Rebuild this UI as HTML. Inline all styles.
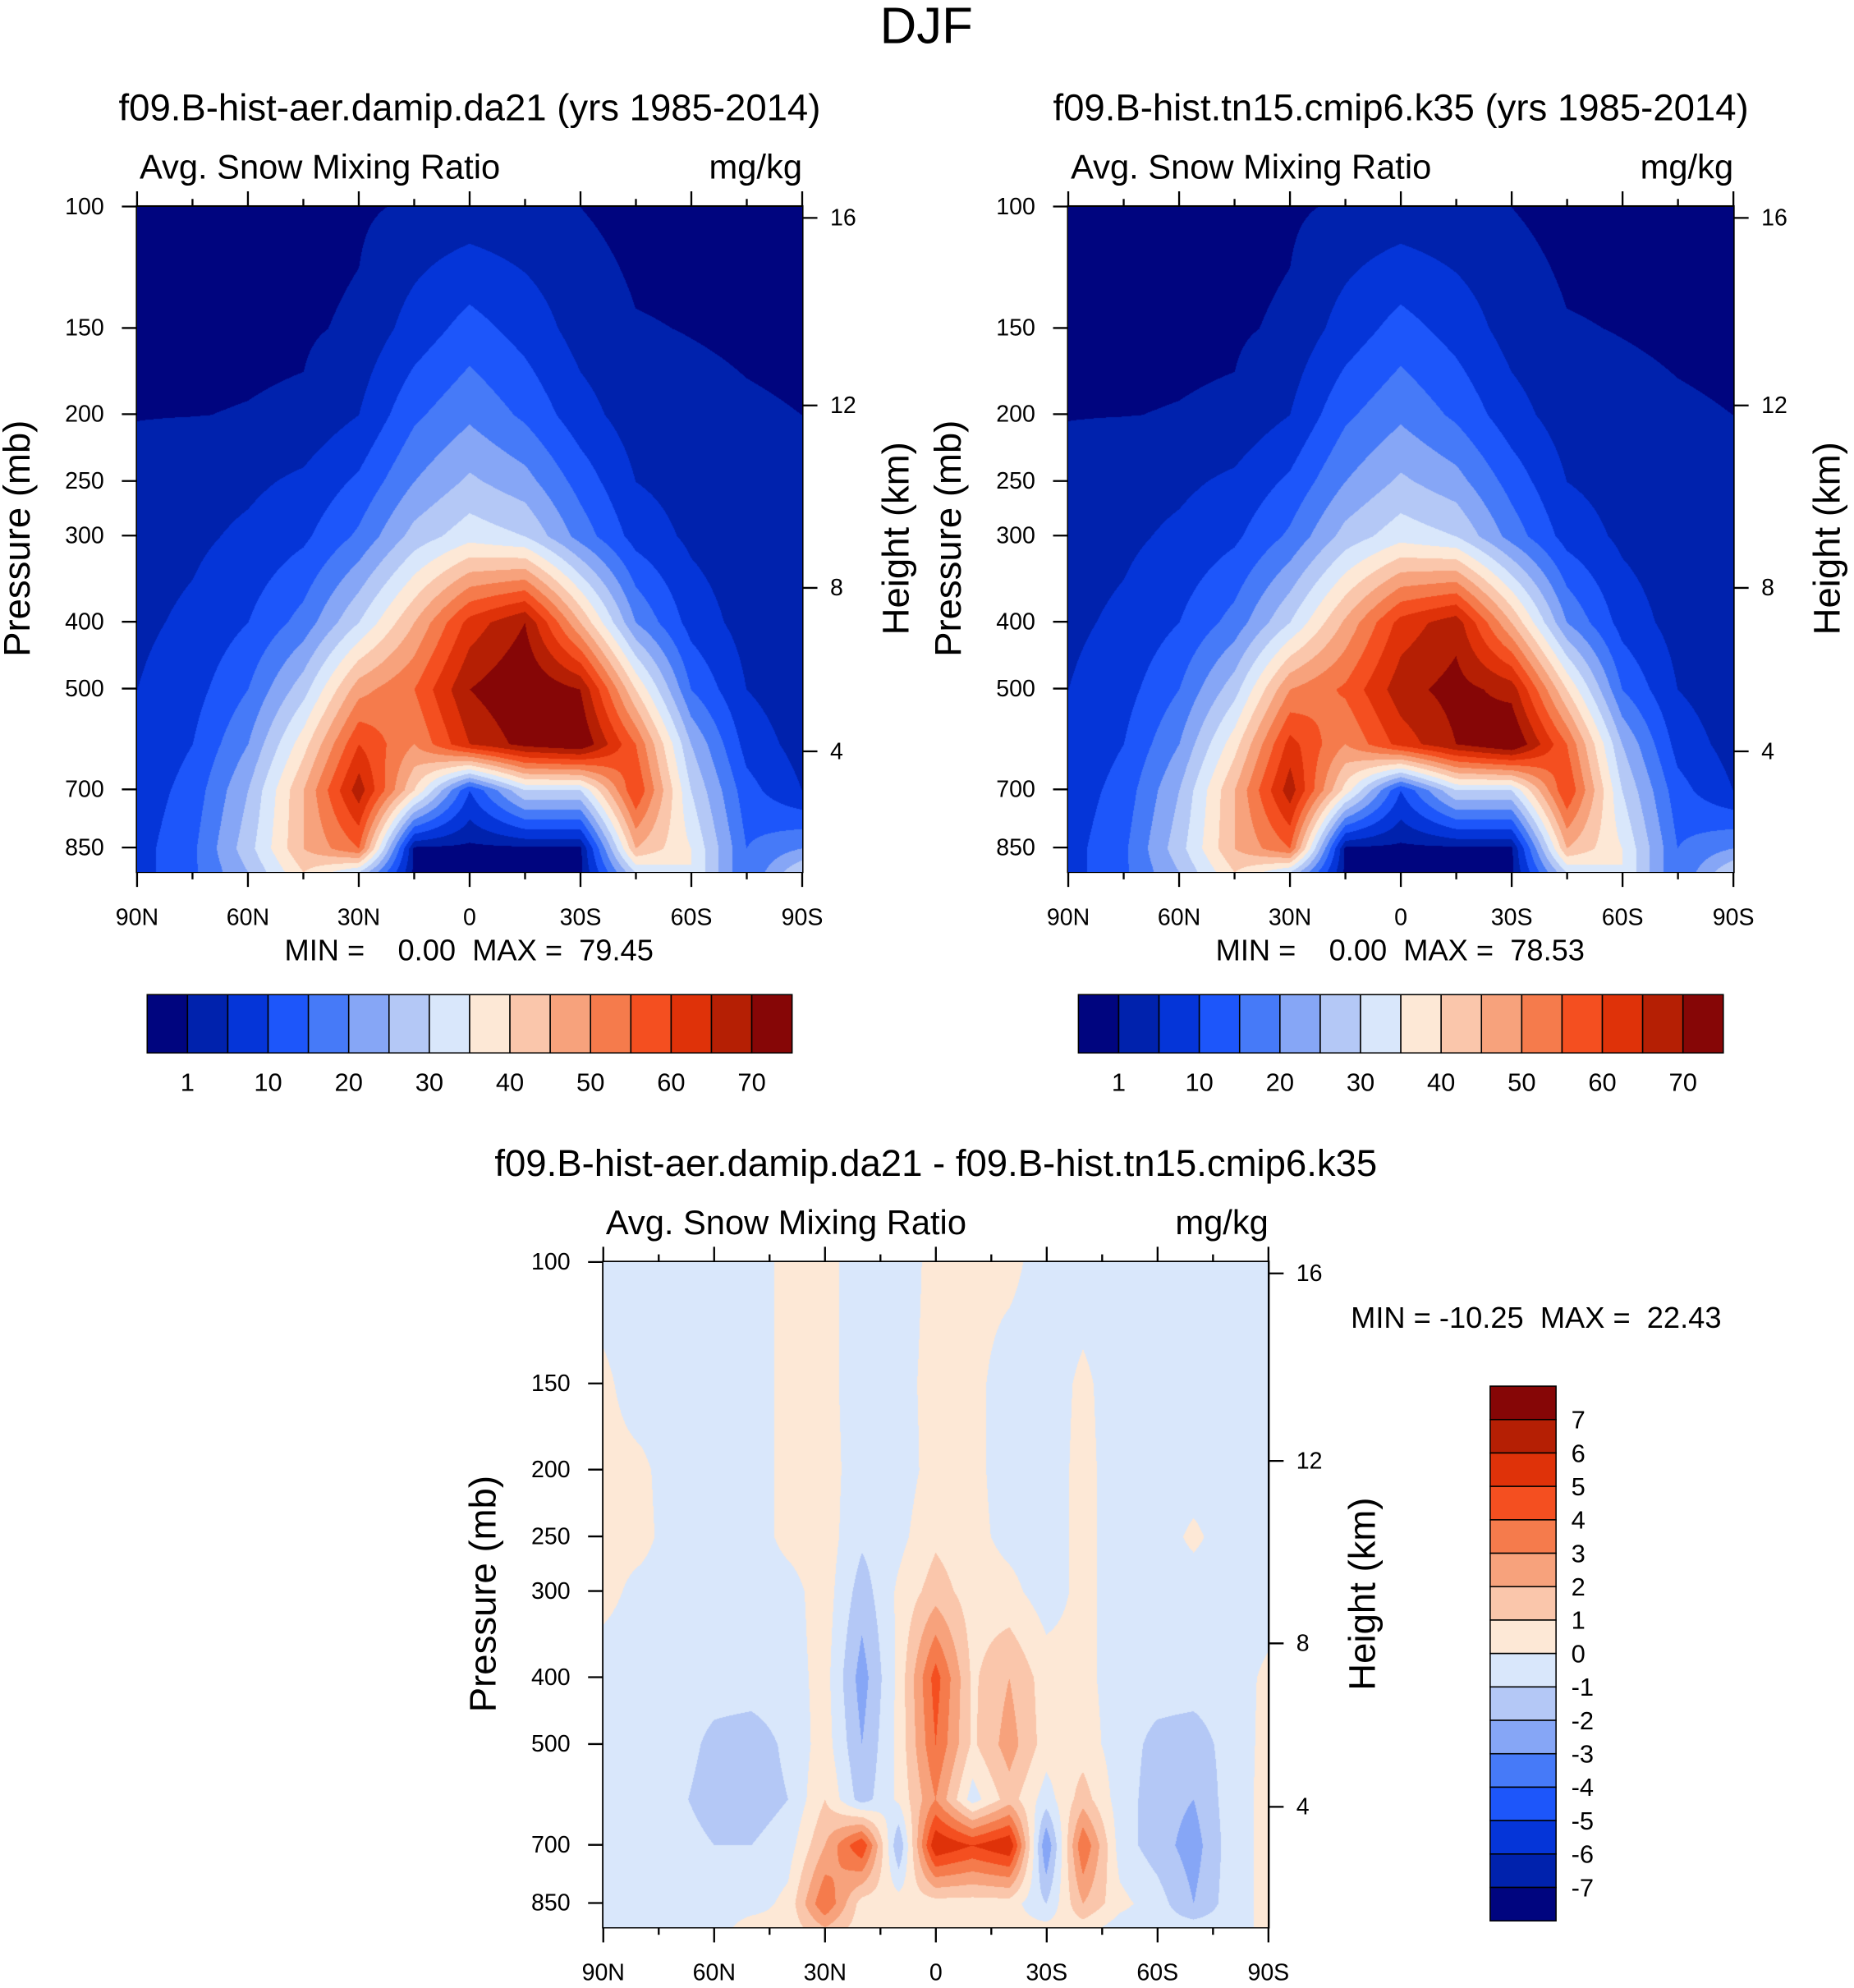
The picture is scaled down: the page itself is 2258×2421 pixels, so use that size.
<!DOCTYPE html>
<html><head><meta charset="utf-8">
<style>
html,body{margin:0;padding:0;background:#fff;}
#wrap{position:relative;width:2258px;height:2421px;overflow:hidden;}
svg{position:absolute;left:0;top:0;}
canvas{position:absolute;}
text{font-family:"Liberation Sans",sans-serif;fill:#000;white-space:pre;}
</style></head>
<body>
<div id="wrap">
<svg id="svg" width="2258" height="2421" viewBox="0 0 1463 1569"></svg>
</div>
<script>
// ---- data ----
const levels = [100,150,200,250,300,400,500,600,700,850,920];
const lats13 = [90,75,60,45,30,15,0,-15,-30,-45,-60,-75,-90];
const lats19 = [90,80,70,60,50,40,30,20,10,0,-10,-20,-30,-40,-50,-60,-70,-80,-90];
const fieldA = [
 [0,0,0,0,0.5,1.5,2,1.5,1,0,0,0,0],
 [0.3,0.4,0.5,0.6,1.5,7,12,8,3,1.2,0.9,0.6,0.4],
 [0.9,0.95,1.1,1.4,5,14,19,14,7,2.5,1.8,1.3,1],
 [2,3,4,6,11,20,26,22,13,5,3,2,1],
 [3,4,6,9,16,27,33,30,18,8,4,2,1],
 [4,6,10,17,30,45,62,70,45,20,8,3,1],
 [5,8,15,28,48,55,70,75,70,40,15,5,2],
 [6,10,20,38,60,50,65,72,75,55,25,8,3],
 [7,12,25,45,68,40,10,30,30,60,30,12,5],
 [8,14,28,45,55,0,0,0,0,45,35,15,20],
 [8,14,25,40,30,0,0,0,0,30,35,15,30]];
const fieldB = [
 [0,0,0,0,0.5,1.5,2,1.5,1,0,0,0,0],
 [0.3,0.4,0.5,0.6,1.5,7,12,8,3,1.2,0.9,0.6,0.4],
 [0.9,0.95,1.1,1.4,5,14,19,14,7,2.5,1.8,1.3,1],
 [2,3,4,6,11,20,26,22,13,5,3,2,1],
 [3,4,6,9,16,27,33,30,18,8,4,2,1],
 [4,6,10,17,30,46,62,68,45,20,8,3,1],
 [5,8,15,28,50,56,68,72,68,40,15,5,2],
 [6,10,20,38,62,50,62,70,76,55,25,8,3],
 [7,12,25,45,68,38,10,30,30,60,30,12,5],
 [8,14,28,45,55,0,0,0,0,45,35,15,20],
 [8,14,25,40,30,0,0,0,0,30,35,15,30]];
const fieldD = [
 [-0.5,-0.5,-0.5,-0.5,-0.5,0.3,0.3,-0.5,-0.5,0.3,0.3,0.3,-0.5,-0.5,-0.5,-0.5,-0.5,-0.5,-0.5],
 [0.2,-0.5,-0.5,-0.5,-0.5,0.3,0.3,-0.5,-0.3,0.3,0.3,-0.5,-0.5,0.2,-0.5,-0.5,-0.5,-0.5,-0.5],
 [0.3,0.2,-0.5,-0.5,-0.5,0.3,0.4,-0.5,-0.5,0.4,0.3,-0.5,-0.5,0.3,-0.5,-0.5,-0.5,-0.5,-0.5],
 [0.3,0.3,-0.5,-0.5,-0.5,0.3,0.5,-0.8,-0.3,0.8,0.3,-0.3,-0.5,0.3,-0.5,-0.5,0.2,-0.5,-0.5],
 [0.3,-0.3,-0.5,-0.5,-0.5,-0.4,0.5,-1.5,0.2,1.5,0.5,0.3,-0.5,0.3,-0.5,-0.5,-0.5,-0.5,-0.5],
 [-0.5,-0.5,-0.5,-0.5,-0.5,-0.5,0.4,-2.5,0.3,4.5,0.8,2,0.5,0.3,-0.5,-0.5,-0.5,-0.5,0.2],
 [-0.5,-0.5,-0.5,-1.3,-1.5,-0.8,0.5,-2,0.3,4,0.8,2.5,0.5,0.5,-0.5,-1.3,-1.5,-0.6,0.3],
 [-0.5,-0.5,-0.8,-1.5,-1.5,-1,1,-1.5,0.2,3,-0.5,1.5,-0.5,1.5,-0.5,-1.5,-2,-0.5,0.3],
 [-0.5,-0.5,-0.5,-1,-1,-0.5,2,5,-2,6,5,6,-3,4,-0.5,-1.5,-2.5,-0.5,0.3],
 [-0.5,-0.5,-0.5,-0.5,-0.5,0.3,4,0.5,0.5,0.5,0.5,0.5,-1,2,0.3,-0.5,-2,-0.5,0.3],
 [-0.5,-0.5,-0.5,-0.5,0.5,0.3,2,0.4,0.4,0.4,0.4,0.4,0.3,0.5,-0.5,-0.5,-0.5,-0.5,0.3]];
const contA = [1,5,10,15,20,25,30,35,40,45,50,55,60,65,70];
const contD = [-7,-6,-5,-4,-3,-2,-1,0,1,2,3,4,5,6,7];
const labA = ['1','10','20','30','40','50','60','70'];
const labD = ['7','6','5','4','3','2','1','0','-1','-2','-3','-4','-5','-6','-7'];
const palette = ['#00057f','#0022ad','#0535d8','#1d56fa','#467af8','#86a6f6','#b4c8f6','#d9e7fb',
 '#fde8d6','#fac6ab','#f7a27c','#f57b4c','#f44f20','#df3209','#b51f04','#860606'];
const pTicks = [100,150,200,250,300,400,500,700,850];
const hTicks = [[16,172],[12,320],[8,464],[4,593]];
const xLabels = ['90N','60N','30N','0','30S','60S','90S'];

// ---- helpers ----
const S = 2258/1463;
const NS='http://www.w3.org/2000/svg';
const svg=document.getElementById('svg');
function el(tag,attrs,parent){const e=document.createElementNS(NS,tag);for(const k in attrs)e.setAttribute(k,attrs[k]);(parent||svg).appendChild(e);return e;}
function txt(x,y,s,size,anchor,parent,name,rot){const t=el('text',{x:x,y:y,'font-size':size,'text-anchor':anchor||'middle'},parent);
 if(rot)t.setAttribute('transform','rotate(-90 '+x+' '+y+')');t.textContent=s;
 
 return t;}
const PSCALE=236.4;
function pToY(p,top){return top+Math.log(p/100)*PSCALE;}
function colorIdx(v,cont){let i=0;while(i<cont.length&&v>=cont[i])i++;return i;}
function hex(c){return [parseInt(c.slice(1,3),16),parseInt(c.slice(3,5),16),parseInt(c.slice(5,7),16)];}
const palRGB=palette.map(hex);

function drawField(x0,y0,w,h,field,lats,cont,name){
 const cv=document.createElement('canvas');
 const W=Math.round(w*S),H=Math.round(h*S);
 cv.width=W;cv.height=H;cv.style.left=(x0*S)+'px';cv.style.top=(y0*S)+'px';
 cv.style.width=W+'px';cv.style.height=H+'px';
 
 
 document.getElementById('wrap').appendChild(cv);
 const ctx=cv.getContext('2d');const img=ctx.createImageData(W,H);
 const lp=levels.map(p=>Math.log(p));
 const nl=lats.length;
 for(let j=0;j<H;j++){
  const yy=j/S; const lnp=Math.log(100)+yy/PSCALE;
  let r=0;while(r<levels.length-2&&lnp>lp[r+1])r++;
  let fr=(lnp-lp[r])/(lp[r+1]-lp[r]);fr=Math.max(0,Math.min(1,fr));
  for(let i=0;i<W;i++){
   const lat=90-180*(i/(W-1));
   let c=0;while(c<nl-2&&lat<lats[c+1])c++;
   let fc=(lats[c]-lat)/(lats[c]-lats[c+1]);fc=Math.max(0,Math.min(1,fc));
   const v=(field[r][c]*(1-fc)+field[r][c+1]*fc)*(1-fr)+(field[r+1][c]*(1-fc)+field[r+1][c+1]*fc)*fr;
   const col=palRGB[colorIdx(v,cont)];const k=(j*W+i)*4;
   img.data[k]=col[0];img.data[k+1]=col[1];img.data[k+2]=col[2];img.data[k+3]=255;
  }
 }
 ctx.putImageData(img,0,0);
}

function drawAxes(x0,y0,title,prefix){
 const w=525,h=525;const g=el('g',{});
 
 
 el('rect',{x:x0,y:y0,width:w,height:h,fill:'none',stroke:'#000','stroke-width':2},g);
 txt(x0+w/2,y0-68,title,29.5,'middle',g,prefix+'-title');
 txt(x0+2,y0-22,'Avg. Snow Mixing Ratio',27,'start',g,prefix+'-variable-label');
 txt(x0+w,y0-22,'mg/kg',27,'end',g,prefix+'-units-label');
 pTicks.forEach(p=>{const y=pToY(p,y0);
  el('line',{x1:x0-12,y1:y,x2:x0,y2:y,stroke:'#000','stroke-width':1.5},g);
  txt(x0-26,y+6,String(p),18.5,'end',g,prefix+'-pressure-tick');});
 hTicks.forEach(t=>{const y=y0+(t[1]-163);
  el('line',{x1:x0+w,y1:y,x2:x0+w+12,y2:y,stroke:'#000','stroke-width':1.5},g);
  txt(x0+w+22,y+6,String(t[0]),18.5,'start',g,prefix+'-height-tick');});
 for(let k=0;k<=12;k++){const x=x0+w*k/12;const L=k%2==0?12:6;
  el('line',{x1:x,y1:y0,x2:x,y2:y0-L,stroke:'#000','stroke-width':1.5},g);
  el('line',{x1:x,y1:y0+h,x2:x,y2:y0+h+L,stroke:'#000','stroke-width':1.5},g);}
 xLabels.forEach((s,k)=>txt(x0+w*k/6,y0+h+42,s,18.5,'middle',g,prefix+'-lat-tick'));
 txt(x0-85,y0+262,'Pressure (mb)',29.5,'middle',g,prefix+'-y-axis-title',true);
 txt(x0+w+84,y0+262,'Height (km)',29.5,'middle',g,prefix+'-y2-axis-title',true);
}

function hColorbar(x0,y0,prefix){
 const w=509,h=46,bw=w/16;const g=el('g',{});
 
 
 palette.forEach((c,i)=>{el('rect',{x:x0+i*bw,y:y0,width:bw,height:h,fill:c,stroke:'#000','stroke-width':1},g);});
 labA.forEach((s,k)=>txt(x0+bw*(2*k+1),y0+76,s,20,'middle',g,prefix+'-colorbar-label'));
}

txt(731,34,'DJF',40,'middle',null,'figure-title');

drawField(108,163,525,525,fieldA,lats13,contA,'panel1-field');
drawAxes(108,163,'f09.B-hist-aer.damip.da21 (yrs 1985-2014)','panel1');
txt(370,758,'MIN =    0.00  MAX =  79.45',23.5,'middle',null,'panel1-minmax');
hColorbar(116,785,'panel1');

drawField(843,163,525,525,fieldB,lats13,contA,'panel2-field');
drawAxes(843,163,'f09.B-hist.tn15.cmip6.k35 (yrs 1985-2014)','panel2');
txt(1105,758,'MIN =    0.00  MAX =  78.53',23.5,'middle',null,'panel2-minmax');
hColorbar(851,785,'panel2');

drawField(476,996,524,525,fieldD,lats19,contD,'diff-field');
drawAxes(476,996,'f09.B-hist-aer.damip.da21 - f09.B-hist.tn15.cmip6.k35','diff');
txt(1066,1048,'MIN = -10.25  MAX =  22.43',23.5,'start',null,'diff-minmax');
(function(){const x0=1176,y0=1094,w=52,h=422,bh=h/16;const g=el('g',{});
 
 
 for(let i=0;i<16;i++)el('rect',{x:x0,y:y0+i*bh,width:w,height:bh,fill:palette[15-i],stroke:'#000','stroke-width':1},g);
 labD.forEach((s,k)=>txt(x0+64,y0+bh*(k+1)+7,s,20,'start',g,'diff-colorbar-label'));
})();
</script>
</body></html>
